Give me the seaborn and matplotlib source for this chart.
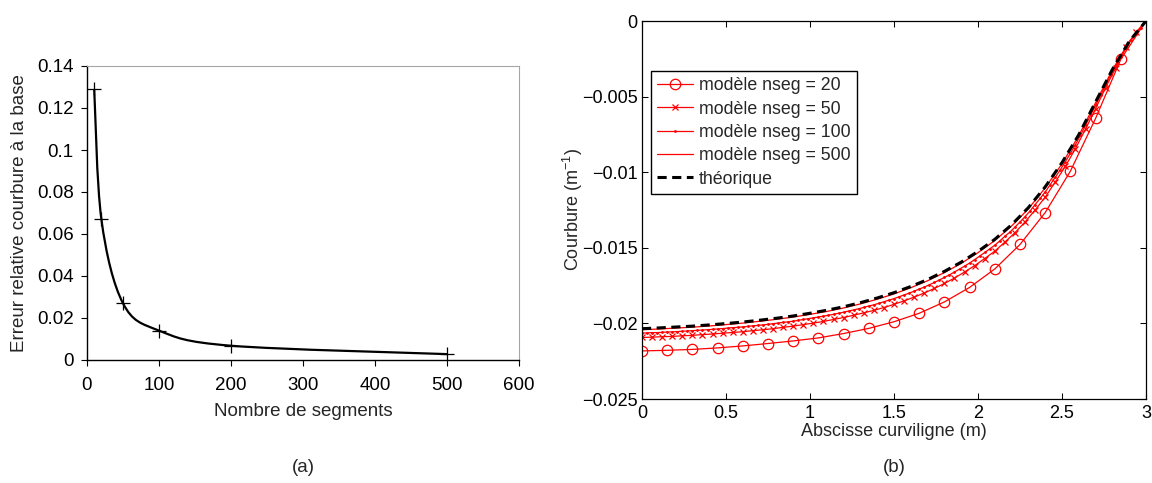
import numpy as np
import matplotlib
matplotlib.use("Agg")
import matplotlib.pyplot as plt
from matplotlib.path import Path
from matplotlib.patches import PathPatch
from matplotlib.ticker import FuncFormatter, MultipleLocator
import seaborn as sns

# ---- (a) relative error of base curvature vs number of segments ----
nseg_counts = [10, 20, 50, 100, 200, 500]
rel_error = [0.129, 0.067, 0.027, 0.014, 0.0068, 0.0028]

# ---- (b) curvature along the beam (m^-1) ----
x_20 = np.linspace(0, 3.0, 21)
x_50 = np.linspace(0, 3.0, 51)
x_100 = np.linspace(0, 3.0, 101)
x_500 = np.linspace(0, 3.0, 31)
x_theo = np.linspace(0, 3.0, 31)

curv_20 = [-0.02182, -0.02178, -0.02172, -0.02162, -0.02149, -0.02133, -0.02116,
           -0.02096, -0.02067, -0.02033, -0.01989, -0.01933, -0.01858, -0.01762,
           -0.01640, -0.01478, -0.01267, -0.00993, -0.00644, -0.00253, 0.0]

curv_50 = [-0.02093, -0.02091, -0.02088, -0.02086, -0.02082, -0.02079, -0.02074, -0.02070, -0.02065, -0.02060,
           -0.02055, -0.02048, -0.02042, -0.02035, -0.02026, -0.02018, -0.02008, -0.01998, -0.01987, -0.01974,
           -0.01961, -0.01946, -0.01930, -0.01914, -0.01895, -0.01874, -0.01851, -0.01826, -0.01799, -0.01769,
           -0.01736, -0.01700, -0.01660, -0.01618, -0.01571, -0.01522, -0.01462, -0.01400, -0.01329, -0.01250,
           -0.01165, -0.01065, -0.00961, -0.00844, -0.00715, -0.00579, -0.00440, -0.00308, -0.00175, -0.00075, 0.0]

curv_100 = [-0.02064, -0.02063, -0.02061, -0.02061, -0.02059, -0.02057, -0.02056, -0.02054, -0.02052, -0.02050,
            -0.02048, -0.02046, -0.02044, -0.02042, -0.02039, -0.02037, -0.02034, -0.02031, -0.02028, -0.02026,
            -0.02023, -0.02020, -0.02016, -0.02013, -0.02010, -0.02006, -0.02002, -0.01998, -0.01993, -0.01990,
            -0.01985, -0.01980, -0.01974, -0.01969, -0.01963, -0.01958, -0.01952, -0.01946, -0.01940, -0.01933,
            -0.01926, -0.01918, -0.01911, -0.01903, -0.01894, -0.01885, -0.01877, -0.01867, -0.01857, -0.01846,
            -0.01836, -0.01824, -0.01812, -0.01800, -0.01787, -0.01773, -0.01760, -0.01745, -0.01729, -0.01713,
            -0.01696, -0.01679, -0.01660, -0.01641, -0.01621, -0.01601, -0.01578, -0.01555, -0.01531, -0.01507,
            -0.01483, -0.01454, -0.01424, -0.01396, -0.01363, -0.01329, -0.01294, -0.01256, -0.01214, -0.01173,
            -0.01131, -0.01082, -0.01033, -0.00984, -0.00930, -0.00875, -0.00817, -0.00757, -0.00690, -0.00624,
            -0.00557, -0.00491, -0.00423, -0.00357, -0.00295, -0.00238, -0.00180, -0.00128, -0.00085, -0.00043,
            0.0]

curv_500 = [-0.02042, -0.02037, -0.02031, -0.02025, -0.02017, -0.02008, -0.01998, -0.01986, -0.01973, -0.01958,
            -0.01940, -0.01921, -0.01898, -0.01871, -0.01840, -0.01805, -0.01764, -0.01718, -0.01664, -0.01603,
            -0.01532, -0.01452, -0.01356, -0.01242, -0.01104, -0.00944, -0.00758, -0.00540, -0.00323, -0.00136,
            0.0]

curv_theo = [-0.02035, -0.02030, -0.02024, -0.02018, -0.02010, -0.02001, -0.01991, -0.01979, -0.01966, -0.01951,
             -0.01933, -0.01913, -0.01890, -0.01863, -0.01832, -0.01797, -0.01756, -0.01710, -0.01656, -0.01595,
             -0.01524, -0.01444, -0.01348, -0.01234, -0.01097, -0.00937, -0.00752, -0.00535, -0.00320, -0.00135,
             0.0]


def smooth_path(xs, ys):
    # Excel-like smoothed line: Catmull-Rom segments as cubic Bezier curves
    pts = np.column_stack([xs, ys]).astype(float)
    n = len(pts)
    verts = [pts[0]]
    codes = [Path.MOVETO]
    for i in range(n - 1):
        p0 = pts[max(i - 1, 0)]
        p1 = pts[i]
        p2 = pts[i + 1]
        p3 = pts[min(i + 2, n - 1)]
        verts += [p1 + (p2 - p0) / 6, p2 - (p3 - p1) / 6, p2]
        codes += [Path.CURVE4] * 3
    return Path(verts, codes)


sns.set_style("ticks")
plt.rcParams['font.family'] = ['Liberation Sans', 'DejaVu Sans']
plt.rcParams['mathtext.fontset'] = 'custom'
plt.rcParams['mathtext.rm'] = 'Liberation Sans'
plt.rcParams['mathtext.it'] = 'Liberation Sans:italic'
plt.rcParams['axes.unicode_minus'] = True

W, H = 1152, 483
fig = plt.figure(figsize=(W / 100, H / 100), dpi=100)
fig.patch.set_facecolor('white')

fmt = FuncFormatter(lambda v, p: ('%g' % (round(v, 6) + 0)).replace('-', '\u2212'))

# ---------------- panel (a) ----------------
ax1 = fig.add_axes([87 / W, (H - 360) / H, 432 / W, 294 / H])
ax1.add_patch(PathPatch(smooth_path(nseg_counts, rel_error), facecolor='none',
                        edgecolor='black', lw=1.6, zorder=3))
sns.lineplot(x=nseg_counts, y=rel_error, ax=ax1, linestyle='', marker='+',
             markersize=9.5, markeredgewidth=0.9, markeredgecolor='black',
             color='black', zorder=4)
ax1.set_xlim(0, 600)
ax1.set_ylim(0, 0.14)
ax1.xaxis.set_major_locator(MultipleLocator(100))
ax1.yaxis.set_major_locator(MultipleLocator(0.02))
ax1.xaxis.set_major_formatter(fmt)
ax1.yaxis.set_major_formatter(fmt)
ax1.tick_params(direction='out', length=4.5, width=0.8, labelsize=13.5, colors='black')
ax1.tick_params(axis='x', pad=8)
ax1.tick_params(axis='y', pad=5)
for s in ['top', 'right']:
    ax1.spines[s].set_color('#a6a6a6')
    ax1.spines[s].set_linewidth(0.8)
for s in ['left', 'bottom']:
    ax1.spines[s].set_color('black')
    ax1.spines[s].set_linewidth(1.0)
ax1.set_xlabel('Nombre de segments', fontsize=13.5)
ax1.set_ylabel('Erreur relative courbure à la base', fontsize=13.5)
ax1.xaxis.set_label_coords(0.5, -0.175)
ax1.yaxis.set_label_coords(-0.157, 0.5)
ax1.xaxis.label.set_va('center')
ax1.yaxis.label.set_va('center')

# ---------------- panel (b) ----------------
ax2 = fig.add_axes([642 / W, (H - 399) / H, 504 / W, 378 / H])
sns.lineplot(x=x_20, y=curv_20, ax=ax2, color='red', lw=0.9, marker='o',
             markersize=7.5, markerfacecolor='none', markeredgecolor='red',
             markeredgewidth=0.9, markevery=list(range(20)),
             label='modèle nseg = 20')
sns.lineplot(x=x_50, y=curv_50, ax=ax2, color='red', lw=0.9, marker='x',
             markersize=4.5, markeredgecolor='red', markeredgewidth=0.9,
             markevery=list(range(50)), label='modèle nseg = 50')
sns.lineplot(x=x_100, y=curv_100, ax=ax2, color='red', lw=0.9, marker='.',
             markersize=2.5, markeredgecolor='red', markerfacecolor='red',
             label='modèle nseg = 100')
sns.lineplot(x=x_500, y=curv_500, ax=ax2, color='red', lw=0.9,
             label='modèle nseg = 500')
sns.lineplot(x=x_theo, y=curv_theo, ax=ax2, color='black', lw=2.2,
             dashes=(3, 1.8), label='théorique')
ax2.set_xlim(0, 3)
ax2.set_ylim(-0.025, 0)
ax2.xaxis.set_major_locator(MultipleLocator(0.5))
ax2.yaxis.set_major_locator(MultipleLocator(0.005))
ax2.xaxis.set_major_formatter(fmt)
ax2.yaxis.set_major_formatter(fmt)
ax2.tick_params(direction='in', length=4, width=0.75, labelsize=13,
                top=True, right=True, colors='black')
ax2.tick_params(axis='x', pad=4)
ax2.tick_params(axis='y', pad=3)
for s in ax2.spines.values():
    s.set_color('black')
    s.set_linewidth(0.9)
ax2.set_xlabel('Abscisse curviligne (m)', fontsize=13)
ax2.set_ylabel('Courbure (m$^{-1}$)', fontsize=13)
ax2.xaxis.set_label_coords(0.5, -0.087)
ax2.yaxis.set_label_coords(-0.137, 0.5)
ax2.xaxis.label.set_va('center')
ax2.yaxis.label.set_va('center')

leg = ax2.legend(loc='upper left', bbox_to_anchor=(0.018, 0.868), borderaxespad=0,
                 fontsize=12.8, frameon=True, fancybox=False, framealpha=1,
                 edgecolor='black', handlelength=2.0, handletextpad=0.35,
                 labelspacing=0.36, borderpad=0.35)
leg.get_frame().set_linewidth(1.0)

fig.text(303 / W, 1 - 467 / H, '(a)', ha='center', va='center', fontsize=13.5)
fig.text(894 / W, 1 - 467 / H, '(b)', ha='center', va='center', fontsize=13.5)

fig.savefig('out.png', dpi=100, facecolor='white')
